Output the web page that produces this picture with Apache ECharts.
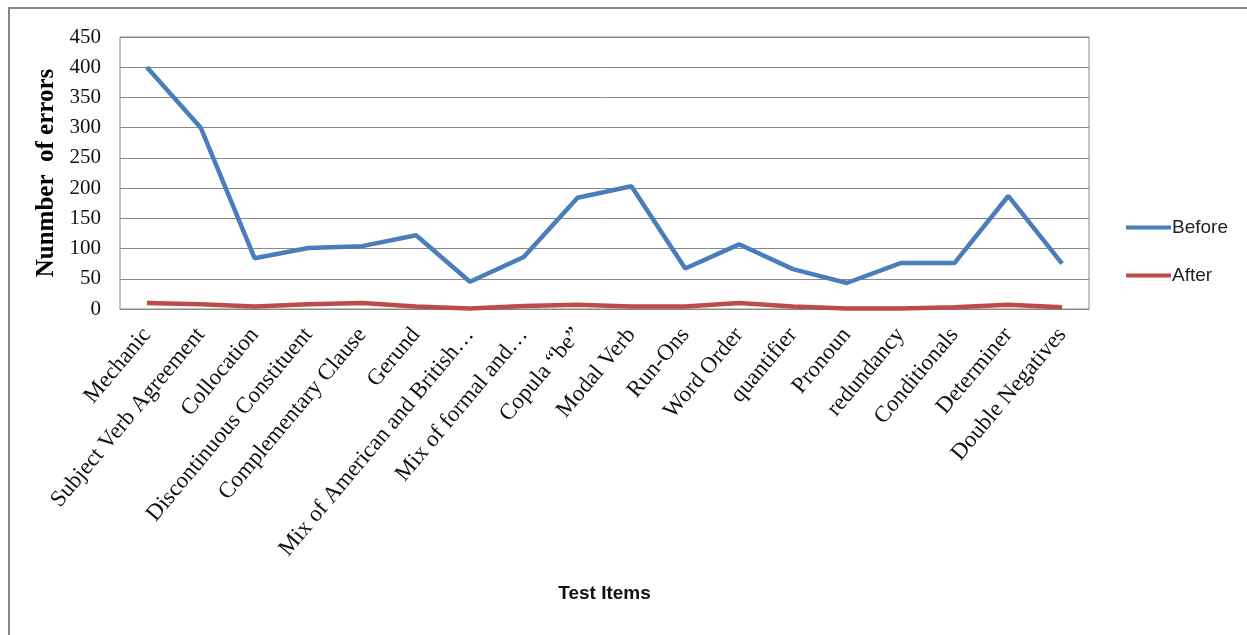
<!DOCTYPE html>
<html>

<head>
    <title>Number of errors before and after</title>
    <meta charset="utf-8" />
    <script src="https://cdn.jsdelivr.net/npm/echarts@6/dist/echarts.min.js"></script>
    <style type="text/css">
        html,
        body {
            width: 100%;
            height: 100%;
            margin: 0;
            background: #fff;
        }

        #frame {
            position: absolute;
            left: 8px;
            top: 7px;
            right: 0;
            bottom: 0;
            border-left: 2px solid #888;
            border-top: 2px solid #888;
        }

        #chart {
            position: absolute;
            left: 0;
            top: 0;
            width: 1247px;
            height: 635px;
        }
    </style>
</head>

<body>
    <div id="frame"></div>
    <div id="chart"></div>
    <script>
        var categories = ['Mechanic', 'Subject Verb Agreement', 'Collocation', 'Discontinuous Constituent',
            'Complementary Clause', 'Gerund', 'Mix of American and British…', 'Mix of formal and…',
            'Copula \u201cbe\u201d', 'Modal Verb', 'Run-Ons', 'Word Order', 'quantifier', 'Pronoun',
            'redundancy', 'Conditionals', 'Determiner', 'Double Negatives'];
        var before = [400, 300, 84, 101, 104, 122, 45, 86, 184, 203, 67, 107, 66, 43, 76, 76, 187, 75];
        var after = [10, 8, 4, 8, 10, 4, 1, 5, 7, 4, 4, 10, 4, 1, 1, 3, 7, 3];
        var yTicks = { min: 0, max: 450, step: 50 };

        var chart = echarts.init(document.getElementById('chart'), null, { width: 1247, height: 635 });

        var option = {
            animation: false,
            grid: {
                left: 120,
                top: 37,
                width: 969,
                height: 272,
                show: true,
                borderColor: '#888',
                borderWidth: 1
            },
            legend: {
                orient: 'vertical',
                left: 1121,
                top: 213,
                itemWidth: 45,
                itemHeight: 4,
                itemGap: 29,
                icon: 'rect',
                textStyle: {
                    fontFamily: 'Liberation Sans Narrow, Liberation Sans',
                    fontSize: 19,
                    color: '#222',
                    padding: [0, 0, 0, -4]
                },
                data: ['Before', 'After']
            },
            xAxis: {
                type: 'category',
                data: categories,
                boundaryGap: true,
                name: 'Test Items',
                nameLocation: 'middle',
                nameGap: 275,
                nameTextStyle: {
                    fontFamily: 'Liberation Sans',
                    fontWeight: 'bold',
                    fontSize: 19,
                    color: '#111'
                },
                axisLine: { lineStyle: { color: '#888' } },
                axisTick: { show: false },
                axisLabel: {
                    rotate: 50,
                    interval: 0,
                    margin: 22,
                    fontFamily: 'Liberation Serif',
                    fontSize: 23,
                    color: '#111'
                }
            },
            yAxis: {
                type: 'value',
                min: yTicks.min,
                max: yTicks.max,
                interval: yTicks.step,
                name: 'Nunmber  of errors',
                nameLocation: 'middle',
                nameGap: 61,
                nameTextStyle: {
                    fontFamily: 'Liberation Serif',
                    fontWeight: 'bold',
                    fontSize: 25,
                    color: '#000'
                },
                axisLine: { show: false },
                axisTick: { show: false },
                axisLabel: {
                    margin: 19,
                    fontFamily: 'Liberation Serif',
                    fontSize: 21,
                    color: '#111'
                },
                splitLine: { lineStyle: { color: '#888', width: 1 } }
            },
            series: [
                {
                    name: 'Before',
                    type: 'line',
                    data: before,
                    symbol: 'none',
                    lineStyle: { width: 4.5, color: '#4a7ebb' },
                    itemStyle: { color: '#4a7ebb' }
                },
                {
                    name: 'After',
                    type: 'line',
                    data: after,
                    symbol: 'none',
                    lineStyle: { width: 4.5, color: '#be4b48' },
                    itemStyle: { color: '#be4b48' }
                }
            ]
        };
        chart.setOption(option);
    </script>
</body>

</html>
